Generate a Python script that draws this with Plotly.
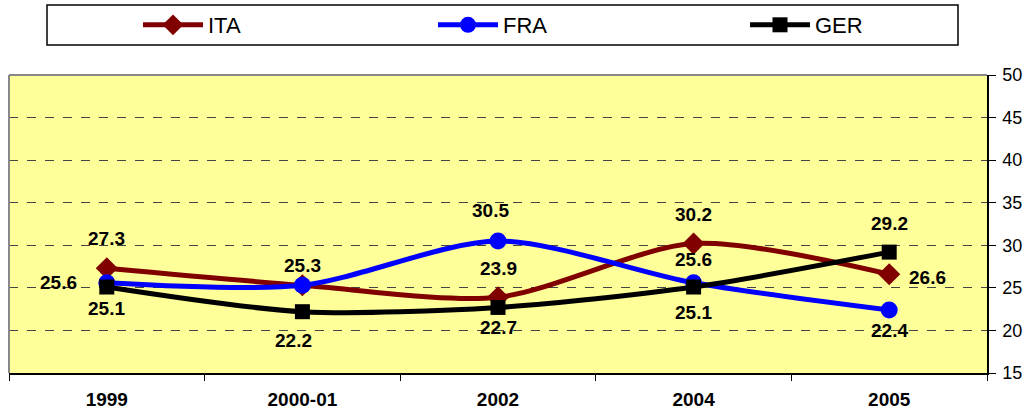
import plotly.graph_objects as go

categories = ["1999", "2000-01", "2002", "2004", "2005"]
ita = [27.3, 25.3, 23.9, 30.2, 26.6]
fra = [25.6, 25.3, 30.5, 25.6, 22.4]
ger = [25.1, 22.2, 22.7, 25.1, 29.2]

ita_labels = ["27.3", "", "23.9", "30.2", "26.6"]
fra_labels = ["25.6", "25.3", "30.5", "25.6", "22.4"]
ger_labels = ["25.1", "22.2", "22.7", "25.1", "29.2"]

# label offsets in pixels (style only)
ita_shift = [(0, 30), (0, 0), (0, 29), (0, 29), (38, -3)]
fra_shift = [(-48, 0), (0, 20), (-8, 31), (0, 23), (0, -21)]
ger_shift = [(0, -21), (-9, -29), (0, -20), (0, -25), (0, 29)]

font_family = "Liberation Sans, Arial, sans-serif"
label_font = dict(family=font_family, size=19, color="black", weight="bold")

series = [
    ("ITA", ita, ita_labels, ita_shift, "#800000", "diamond", 17, "legend"),
    ("FRA", fra, fra_labels, fra_shift, "#0000FF", "circle", 17, "legend2"),
    ("GER", ger, ger_labels, ger_shift, "black", "square", 15, "legend3"),
]

fig = go.Figure()
for name, vals, labels, shifts, color, sym, msize, leg in series:
    fig.add_trace(go.Scatter(
        x=categories, y=vals, name=name, mode="lines+markers",
        line=dict(color=color, width=5, shape="spline", smoothing=0.8),
        marker=dict(symbol=sym, size=msize, color=color),
        legend=leg,
    ))
for name, vals, labels, shifts, color, sym, msize, leg in series:
    for i, (yv, lab, (dx, dy)) in enumerate(zip(vals, labels, shifts)):
        if lab:
            fig.add_annotation(x=i, y=yv, xref="x", yref="y", text=lab,
                               showarrow=False, xshift=dx, yshift=dy,
                               font=label_font, xanchor="center", yanchor="middle")

# legend frame (paper coords relative to plot area)
fig.add_shape(type="rect", xref="paper", yref="paper",
              x0=(47 - 9) / 978, x1=(958 - 9) / 978,
              y0=(373 - 45) / 298, y1=(373 - 5) / 298,
              line=dict(color="black", width=1.5), fillcolor="white", layer="below")

W, H = 1029, 414
leg_common = dict(
    orientation="h", xref="container", yref="container",
    y=1 - 25 / H, xanchor="left", yanchor="middle",
    font=dict(family=font_family, size=22, color="black"),
    bgcolor="rgba(0,0,0,0)", itemwidth=60,
)

fig.update_layout(
    width=W, height=H,
    margin=dict(l=9, r=42, t=75, b=41, autoexpand=False),
    paper_bgcolor="white",
    plot_bgcolor="#FFFF99",
    font=dict(family=font_family, color="black"),
    showlegend=True,
    legend=dict(x=138 / W, **leg_common),
    legend2=dict(x=433 / W, **leg_common),
    legend3=dict(x=745 / W, **leg_common),
    xaxis=dict(
        type="category", showgrid=False, tickson="boundaries",
        ticks="outside", ticklen=6, tickcolor="black",
        showline=True, linecolor="black", linewidth=1.5,
        tickfont=dict(family=font_family, size=19, weight="bold"),
        ticklabelstandoff=8,
        range=[-0.5, 4.5], automargin=False,
    ),
    yaxis=dict(
        range=[15, 50], dtick=5, side="right",
        ticks="outside", ticklen=7, tickcolor="black",
        showline=True, linecolor="black", linewidth=1.5,
        showgrid=True, gridcolor="#444444", griddash="dash", gridwidth=1,
        tickfont=dict(family=font_family, size=18),
        ticklabelstandoff=3,
        zeroline=False, automargin=False,
    ),
)
# gray plot-area border on top and left
fig.add_shape(type="line", xref="paper", yref="paper", x0=0, x1=1, y0=1, y1=1,
              line=dict(color="#888888", width=2))
fig.add_shape(type="line", xref="paper", yref="paper", x0=0, x1=0, y0=0, y1=1,
              line=dict(color="#888888", width=2))

fig.write_html("out.html", config={"displayModeBar": False},
               post_script="document.body.style.margin='0';")
